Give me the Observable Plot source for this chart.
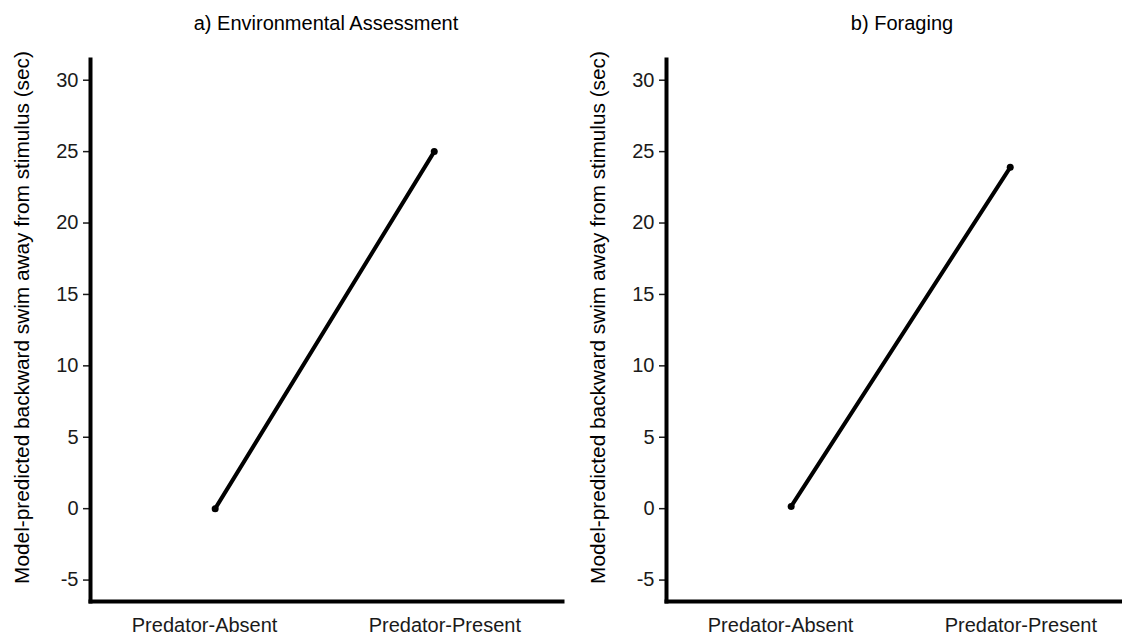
<!DOCTYPE html>
<html>
<head>
<meta charset="utf-8">
<script src="https://cdn.jsdelivr.net/npm/d3@7"></script>
<script src="https://cdn.jsdelivr.net/npm/@observablehq/plot@0.6"></script>
<style>
  html, body { margin: 0; padding: 0; background: #fff; overflow: hidden; width: 1122px; height: 636px; }
  .panel { position: absolute; top: 0; width: 575px; height: 636px; }
  .title { position: absolute; top: 0; left: 90px; width: 472px; height: 40px; line-height: 46px; text-align: center;
           font-family: "Liberation Sans", Arial, sans-serif; font-size: 20px; color: #000; white-space: nowrap; }
</style>
</head>
<body>
<div id="p0" class="panel" style="left:0px"></div>
<div id="p1" class="panel" style="left:575px"></div>
<script>
const conditions = ["Predator-Absent", "Predator-Present"];
const envValues = [0.0, 25.0];
const forValues = [0.16, 23.9];
const dodge = [0.044, -0.044];   // ggplot-style dodge of the points, in category units
const yTicks = [-5, 0, 5, 10, 15, 20, 25, 30];
const panelTitles = ["a) Environmental Assessment", "b) Foraging"];
const yLabel = "Model-predicted backward swim away from stimulus (sec)";

const panels = [envValues, forValues];

panels.forEach((vals, i) => {
  const data = conditions.map((c, j) => ({condition: c, pos: j + 1 + dodge[j], value: vals[j]}));
  const container = document.getElementById("p" + i);
  const t = document.createElement("div");
  t.className = "title";
  t.style.left = (i === 0 ? 90 : 91) + "px";
  t.textContent = panelTitles[i];
  container.appendChild(t);
  const chart = Plot.plot({
    width: 575,
    height: 596,
    marginTop: 19,
    marginBottom: 35,
    marginLeft: i === 0 ? 90 : 91,
    marginRight: i === 0 ? 13 : 12,
    style: {fontFamily: "'Liberation Sans', Arial, sans-serif", fontSize: "20px", color: "#000", background: "white", overflow: "visible"},
    x: {type: "linear", domain: [0.525, 2.49]},
    y: {domain: [-6.5, 31.45]},
    marks: [
      Plot.axisY({ticks: yTicks, tickSize: 7, tickPadding: 5, strokeWidth: 1.5, fontSize: 20, color: "#1a1a1a",
                  tickFormat: d => String(d), label: null}),
      Plot.axisX({ticks: conditions.map((c, j) => j + 1), tickFormat: d => conditions[d - 1],
                  tickSize: 0, tickPadding: 16, fontSize: 20, color: "#1a1a1a", label: null}),
      Plot.text([yLabel], {frameAnchor: "left", rotate: -90, dx: -68, dy: -13, textAnchor: "middle",
                           fontSize: 20.8, fill: "#000"}),
      Plot.frame({anchor: "left", strokeWidth: 4, stroke: "#000"}),
      Plot.frame({anchor: "bottom", strokeWidth: 4, stroke: "#000"}),
      Plot.line(data, {x: "pos", y: "value", stroke: "#000", strokeWidth: 4}),
      Plot.dot(data, {x: "pos", y: "value", r: 3.5, fill: "#000"})
    ]
  });
  chart.style.position = "absolute";
  chart.style.top = "40px";
  chart.style.left = "0px";
  container.appendChild(chart);
});
</script>
</body>
</html>
